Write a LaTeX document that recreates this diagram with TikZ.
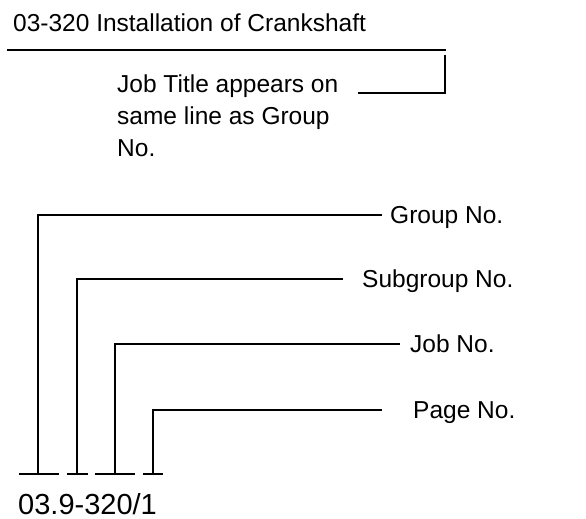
\documentclass[tikz,border=0pt]{standalone}
\usepackage{fontspec}
\setmainfont{Liberation Sans}
\usepackage{tikz}
\usetikzlibrary{positioning,calc}

\begin{document}
\begin{tikzpicture}[x=1pt, y=-1pt,
  txt/.style={inner sep=0pt, font=\fontsize{24.5}{32}\selectfont},
  lbl/.style={txt, anchor=west, text height=17.5pt, text depth=0pt},
  conn/.style={line width=1.3pt},
  bar/.style={line width=2pt}]
  \useasboundingbox (0,0) rectangle (586,519);
  % heading and rule
  \node[txt, anchor=base west] (title) at (13,32) {03-320 Installation of Crankshaft};
  \draw[line width=2.6pt] (7,50) -- (446,50);
  \node[txt, anchor=north west, align=left] (note) at (117,75) {Job Title appears on\\same line as Group\\No.};
  \coordinate (br1) at (445,55);
  \coordinate (br2) at (358,93);
  \draw[conn] (br1) |- (br2);
  % labels
  \node[lbl] (grp) at (390,215) {Group No.};
  \node[lbl] (sub) at (362,279) {Subgroup No.};
  \node[lbl] (job) at (410,344) {Job No.};
  \node[lbl] (page) at (413,410) {Page No.};
  % feet of the connectors
  \coordinate (t1) at (38,474);
  \coordinate (t2) at (77,474);
  \coordinate (t3) at (115,474);
  \coordinate (t4) at (153,474);
  \draw[conn, shorten >=8pt] (t1) |- (grp.west);
  \draw[conn, shorten >=19pt] (t2) |- (sub.west);
  \draw[conn, shorten >=10pt] (t3) |- (job.west);
  \draw[conn, shorten >=31pt] (t4) |- (page.west);
  \draw[bar] ([xshift=-19pt]t1) -- ([xshift=21pt]t1);
  \draw[bar] ([xshift=-10pt]t2) -- ([xshift=11pt]t2);
  \draw[bar] ([xshift=-20pt]t3) -- ([xshift=20pt]t3);
  \draw[bar] ([xshift=-10pt]t4) -- ([xshift=10pt]t4);
  \node[inner sep=0pt, anchor=base west, font=\fontsize{29}{34}\selectfont] (code) at (18,514) {03.9-320/1};
\end{tikzpicture}
\end{document}
